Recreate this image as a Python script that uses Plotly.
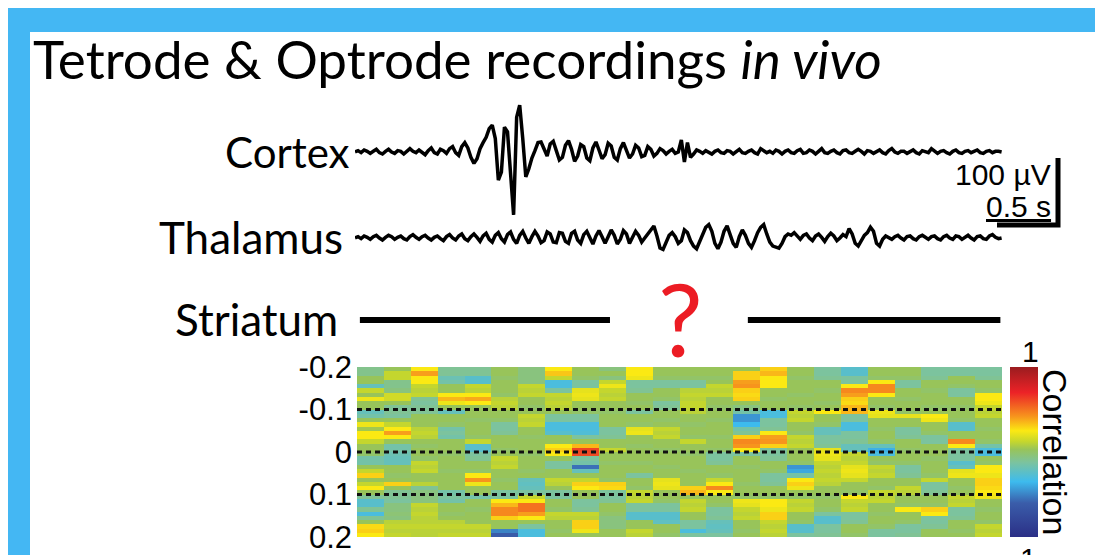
import plotly.graph_objects as go

W, H = 1103, 555

# ---------------- data ----------------
SAMPLE_DT = 0.025  # s
CORTEX_UV = [
    0, 2, -1, 3, 1, -2, 1, 4, -1, -3,
    1, 4, 0, -2, 2, 1, -3, 1, 5, 1,
    -1, 3, -1, -4, 2, 6, -1, -3, 4, 2,
    -2, 5, 8, -1, -5, 8, 14, 6, -8, -17,
    -10, 5, 14, 22, 35, 40, 20, -42, -30, 37,
    30, -40, -94, 52, 70, 20, -37, -25, -9, 2,
    14, 15, 4, -6, 12, 16, 2, -12, -8, 10,
    17, 4, -14, -6, 11, 8, -9, -13, 6, 15,
    3, -10, -4, 13, 9, -8, -12, 5, 14, 2,
    -9, -3, 10, 6, -7, -5, 8, 4, -6, -2,
    5, 2, -3, 1, 4, -2, 0, 18, -15, 14,
    -8, -3, 3, 1, -2, 2, 0, -3, 1, 3,
    -1, -2, 2, 1, -3, 1, 4, -1, -2, 1,
    3, -1, -3, 5, 2, -1, 1, -2, 3, 1,
    -3, 1, 3, -1, -2, 2, 4, -2, -1, 3,
    1, -3, 1, 5, -1, -2, 1, 3, -1, -3,
    2, 3, -1, -2, 1, 4, 1, -3, 2, 1,
    -2, 1, 3, -1, -3, 2, 5, 0, -2, 1,
    1, -2, 1, 3, -1, -3, 2, 1, -1, 5,
    1, -2, 1, 2, -1, -3, 1, 3, -1, -2,
    1, 2, -1, 1, 3, -1, -2, 1, 2, -1,
    1, 1, 0,
]
THALAMUS_UV = [
    0, 2, -1, 3, 1, -2, 2, 4, 0, -3,
    1, 4, 2, -2, 1, 3, -1, -3, 2, 5,
    1, -2, 2, 4, 0, -3, 1, 3, -1, -4,
    2, 5, 0, -3, 3, 6, -1, -4, 2, 6,
    1, -5, 3, 7, -2, -6, 4, 8, -1, -6,
    5, 9, -2, -8, 4, 10, 0, -8, 2, 10,
    3, -7, -4, 9, 6, -6, -7, 8, 7, -5,
    -8, 7, 10, -3, -8, 5, 10, 0, -9, 3,
    11, 2, -8, 2, 12, 4, -9, -2, 11, 6,
    -8, 1, 10, 4, -6, 0, 6, 14, 18, 3,
    -15, -17, -6, 4, 8, 2, -8, -4, 12, 8,
    -4, -12, -16, -6, 6, 16, 20, 10, -8, -16,
    -6, 10, 18, 6, -8, -14, 2, 12, 4, -8,
    -14, -4, 8, 16, 20, 6, -6, -12, -14, -15,
    -8, 2, 6, 4, 8, 2, -2, 4, 6, 0,
    -4, 3, 6, 1, -5, 2, 7, 3, -4, 0,
    5, 2, 14, 6, -8, -12, -4, 4, 8, 16,
    10, -8, -12, -2, 3, 1, -2, 2, 4, 0,
    -3, 2, 3, -1, -3, 2, 4, 1, -2, 2,
    3, -1, -3, 2, 4, 0, -2, 3, 2, -2,
    1, 4, 0, -3, 2, 3, -1, -2, 3, 5,
    1, -1, 0,
]
STRIATUM_SEGMENTS_S = [(0.04, 2.09), (3.22, 5.29)]  # recorded stretches, s
SCALE_UV = 100
SCALE_S = 0.5

LAG_TICKS = [-0.2, -0.1, 0, 0.1, 0.2]
LAG_TICK_TEXT = ["-0.2", "-0.1", "0", "0.1", "0.2"]
DOTTED_LAGS = [-0.1, 0, 0.1]
ROW_LAG_START = -0.195
ROW_LAG_STEP = 0.01

HEATMAP_COLUMNS = [
    [-0.08, -0.08, 0.03, 0.03, -0.2, 0.12, 0.03, 0.22, 0.03, 0.03,
     -0.2, -0.15, 0.03, 0.22, 0.05, 0.25, 0.25, 0.12, 0.03, 0.03,
     0.0, -0.15, -0.15, 0.03, 0.12, 0.3, 0.03, 0.12, 0.25, 0.03,
     -0.1, -0.25, -0.25, -0.1, -0.3, -0.1, 0.03, 0.28, 0.3, 0.25],
    [0.03, 0.12, 0.12, -0.08, -0.08, -0.05, 0.15, 0.15, 0.03, -0.1,
     -0.1, -0.12, 0.03, 0.12, 0.25, 0.4, 0.25, 0.03, -0.15, -0.15,
     -0.18, -0.2, -0.2, 0.03, 0.03, 0.0, 0.03, 0.3, 0.03, -0.1,
     -0.1, -0.12, -0.05, -0.05, -0.03, -0.05, 0.1, 0.12, 0.1, 0.12],
    [0.25, 0.4, 0.25, 0.25, 0.12, 0.1, 0.12, -0.1, -0.12, -0.1,
     -0.1, 0.03, 0.03, 0.03, 0.1, 0.12, 0.1, 0.03, 0.0, 0.03,
     0.03, 0.0, 0.12, 0.1, 0.12, 0.03, 0.03, 0.1, -0.1, -0.05,
     -0.05, -0.05, 0.12, 0.1, 0.12, 0.1, 0.1, 0.12, 0.1, 0.1],
    [-0.1, -0.1, -0.18, -0.15, 0.03, 0.03, 0.25, 0.35, 0.22, 0.03,
     -0.2, 0.03, 0.03, 0.0, -0.15, -0.12, -0.15, 0.03, 0.03, 0.03,
     0.0, 0.03, 0.03, 0.03, 0.0, 0.03, 0.03, 0.03, 0.03, -0.15,
     -0.12, -0.15, 0.03, 0.03, 0.0, 0.03, 0.1, 0.12, 0.1, 0.12],
    [-0.1, -0.1, -0.25, -0.25, 0.12, 0.1, 0.25, 0.38, 0.25, 0.03,
     0.03, 0.03, 0.0, 0.03, 0.03, 0.03, 0.0, 0.12, -0.25, -0.25,
     -0.12, -0.1, 0.03, 0.03, 0.0, 0.25, 0.42, 0.22, 0.03, 0.03,
     -0.15, 0.03, 0.03, 0.0, 0.03, 0.03, 0.03, 0.12, 0.1, 0.12],
    [0.03, 0.03, 0.0, 0.03, 0.03, 0.03, 0.0, 0.1, 0.12, 0.1,
     0.03, 0.03, 0.0, -0.12, -0.12, -0.1, 0.03, 0.03, 0.03, 0.0,
     0.03, 0.12, 0.1, 0.12, 0.03, 0.03, 0.0, 0.03, 0.03, -0.12,
     -0.12, 0.25, 0.35, 0.45, 0.45, 0.3, 0.03, 0.03, -0.5, -0.62],
    [-0.05, -0.05, -0.05, -0.05, 0.12, 0.1, 0.12, 0.03, 0.03, 0.0,
     0.03, 0.12, 0.1, 0.12, 0.03, 0.03, 0.0, 0.03, 0.03, 0.03,
     0.0, 0.03, 0.03, 0.03, 0.0, 0.03, -0.2, -0.22, -0.2, -0.12,
     0.12, 0.25, 0.5, 0.5, 0.4, 0.25, 0.03, -0.12, -0.3, -0.3],
    [0.25, 0.32, 0.12, -0.3, -0.3, -0.12, 0.12, 0.1, 0.12, 0.1,
     0.03, -0.12, -0.12, -0.3, -0.3, -0.25, 0.03, 0.03, 0.25, 0.3,
     0.25, 0.03, -0.12, -0.12, 0.03, 0.03, 0.12, 0.1, 0.03, -0.12,
     -0.12, 0.03, 0.03, 0.0, 0.12, 0.1, 0.03, 0.03, 0.0, 0.03],
    [0.03, 0.03, 0.0, -0.12, -0.12, 0.2, 0.22, 0.2, 0.03, 0.03,
     0.0, -0.12, -0.12, -0.3, -0.3, -0.28, -0.12, 0.03, 0.35, 0.62,
     0.6, -0.12, -0.15, -0.55, -0.2, 0.03, 0.12, 0.3, 0.25, 0.03,
     0.03, -0.12, -0.12, -0.1, 0.12, 0.1, 0.3, 0.3, 0.22, 0.03],
    [-0.05, 0.03, -0.05, 0.12, 0.22, 0.12, 0.1, 0.12, 0.03, 0.03,
     0.0, 0.03, 0.03, 0.03, -0.12, -0.12, -0.1, 0.03, 0.03, 0.12,
     0.03, 0.03, 0.0, 0.03, 0.03, 0.03, 0.0, 0.3, 0.28, -0.12,
     -0.12, -0.1, 0.03, 0.03, 0.0, -0.05, -0.05, -0.05, 0.03, 0.03],
    [0.25, 0.25, 0.22, -0.12, -0.12, -0.1, 0.03, 0.03, 0.0, 0.03,
     -0.12, 0.03, 0.03, 0.0, 0.2, 0.22, 0.03, 0.03, 0.0, 0.03,
     0.03, 0.03, 0.0, 0.03, 0.03, -0.12, 0.03, 0.03, 0.0, 0.12,
     0.1, 0.12, -0.12, -0.12, -0.25, -0.25, 0.03, 0.03, 0.12, 0.1],
    [0.03, 0.03, 0.0, -0.12, -0.12, 0.03, 0.03, 0.0, -0.12, -0.1,
     0.03, 0.03, 0.0, 0.03, 0.12, 0.1, 0.12, 0.03, 0.03, 0.0,
     0.03, 0.03, 0.03, 0.0, 0.03, 0.03, 0.2, 0.22, 0.2, 0.03,
     0.03, 0.0, -0.12, -0.12, -0.25, -0.25, -0.22, 0.03, 0.03, 0.0],
    [0.03, 0.03, 0.0, -0.12, -0.12, 0.1, 0.12, 0.1, 0.12, 0.12,
     0.1, 0.03, 0.03, 0.0, 0.03, 0.03, 0.0, 0.12, 0.03, 0.03,
     0.0, 0.03, 0.03, 0.03, 0.0, 0.03, 0.03, 0.03, 0.3, 0.35,
     0.03, 0.12, 0.1, 0.12, 0.03, 0.03, -0.12, -0.12, -0.3, -0.12],
    [0.03, 0.03, 0.0, 0.03, 0.12, 0.1, 0.12, 0.03, 0.03, 0.0,
     0.03, 0.03, 0.0, 0.03, 0.03, 0.03, 0.0, 0.03, 0.03, 0.0,
     -0.12, -0.12, -0.1, 0.03, 0.03, 0.0, 0.12, 0.25, 0.45, 0.25,
     0.03, 0.03, 0.0, -0.12, -0.12, -0.1, -0.2, -0.22, -0.2, -0.12],
    [0.03, 0.3, 0.3, 0.4, 0.42, 0.3, 0.28, 0.3, 0.03, -0.05,
     -0.15, -0.45, -0.45, -0.35, -0.15, -0.1, 0.3, 0.45, 0.42, 0.25,
     -0.12, 0.03, 0.03, 0.0, 0.03, 0.03, 0.03, 0.0, 0.03, 0.03,
     0.0, 0.22, 0.2, 0.12, 0.1, 0.12, 0.03, 0.03, 0.0, 0.03],
    [0.3, 0.35, 0.25, 0.25, 0.25, 0.03, 0.03, 0.0, 0.03, 0.03,
     -0.3, -0.3, -0.12, -0.12, -0.1, 0.25, 0.4, 0.42, 0.3, -0.12,
     -0.12, -0.1, 0.03, 0.03, 0.0, -0.12, -0.12, -0.1, 0.03, 0.03,
     0.0, 0.25, 0.25, 0.22, 0.3, 0.3, 0.12, 0.1, 0.12, 0.1],
    [0.03, 0.03, 0.0, 0.03, 0.03, 0.03, 0.0, 0.03, 0.03, 0.0,
     0.12, 0.1, 0.12, 0.03, 0.03, 0.0, 0.12, 0.1, 0.12, 0.03,
     0.03, 0.03, 0.0, -0.45, -0.4, -0.15, 0.25, 0.3, 0.22, 0.03,
     0.0, 0.12, 0.1, 0.12, 0.03, 0.03, 0.0, -0.25, -0.25, -0.12],
    [-0.12, -0.12, -0.1, 0.03, 0.03, 0.0, 0.03, 0.03, 0.0, 0.03,
     0.25, 0.03, 0.03, 0.0, -0.2, -0.2, -0.12, -0.12, -0.1, 0.2,
     0.22, 0.2, 0.12, 0.1, 0.12, 0.1, 0.12, 0.1, 0.03, 0.03,
     0.0, 0.03, 0.03, 0.0, -0.12, -0.25, -0.25, -0.12, -0.12, -0.1],
    [-0.25, -0.25, -0.12, -0.12, 0.25, 0.45, 0.4, 0.3, 0.28, 0.35,
     0.35, -0.12, -0.12, -0.3, -0.3, -0.12, -0.12, -0.1, -0.2, -0.2,
     0.12, 0.1, 0.12, 0.2, 0.22, 0.2, 0.12, 0.03, 0.03, 0.0,
     0.25, 0.12, 0.1, 0.12, -0.12, -0.12, -0.1, 0.03, 0.03, 0.0],
    [0.03, 0.03, 0.0, 0.25, 0.45, 0.45, 0.25, 0.03, 0.03, 0.0,
     0.22, 0.2, 0.03, 0.03, 0.0, 0.03, 0.03, 0.0, -0.2, -0.38,
     -0.3, 0.03, 0.0, 0.12, 0.1, 0.12, 0.03, 0.03, 0.0, 0.12,
     0.1, 0.12, 0.03, 0.03, 0.0, 0.03, 0.03, 0.0, -0.12, -0.12],
    [0.03, 0.03, 0.0, -0.12, -0.12, 0.03, 0.03, 0.0, 0.03, 0.03,
     0.0, 0.2, 0.03, 0.03, -0.12, -0.12, -0.1, 0.03, 0.03, 0.0,
     0.03, 0.03, 0.0, -0.12, -0.12, -0.1, 0.03, 0.03, 0.12, 0.1,
     0.03, 0.03, 0.0, 0.25, 0.03, 0.03, 0.0, -0.12, -0.12, -0.1],
    [-0.12, -0.12, -0.1, 0.03, 0.03, 0.0, 0.03, 0.03, 0.03, 0.0,
     0.03, 0.25, 0.22, 0.03, 0.03, 0.0, -0.12, -0.12, 0.03, 0.03,
     0.03, 0.0, 0.03, 0.03, 0.03, 0.0, 0.12, -0.12, -0.12, -0.1,
     0.03, 0.03, 0.0, 0.3, 0.25, -0.12, -0.12, -0.1, 0.03, 0.03],
    [-0.12, -0.12, 0.03, 0.03, 0.0, -0.12, -0.12, 0.03, 0.03, 0.0,
     0.03, 0.03, 0.0, -0.25, -0.25, 0.03, 0.03, 0.45, 0.25, -0.12,
     -0.12, -0.12, -0.25, -0.2, 0.2, 0.22, 0.03, 0.03, 0.0, 0.03,
     0.12, 0.1, 0.12, -0.12, -0.12, -0.1, 0.03, 0.03, 0.0, 0.03],
    [-0.12, -0.12, -0.1, 0.03, 0.03, 0.0, 0.25, 0.25, 0.22, 0.12,
     0.1, 0.12, 0.03, 0.03, 0.0, 0.03, 0.03, 0.0, -0.15, -0.3,
     -0.3, 0.03, 0.0, 0.25, 0.25, 0.22, 0.3, 0.3, 0.28, 0.25,
     0.22, 0.03, 0.03, 0.0, 0.03, 0.03, 0.0, 0.12, 0.1, 0.12],
]

for col in HEATMAP_COLUMNS:
    assert len(col) == 40, len(col)
assert len(CORTEX_UV) == len(THALAMUS_UV)

# ---------------- helpers (page pixels -> paper fractions) ----------------
PAGE_OFFSET = 8  # the page places the figure 8 px right/down


def fx(px):
    return (px - PAGE_OFFSET) / W


def fy(py):
    return 1 - (py - PAGE_OFFSET) / H


PX_PER_S = 122.0
PX_PER_UV = 0.67
TRACE_X0 = 355

t = [i * SAMPLE_DT for i in range(len(CORTEX_UV))]
z = [list(row) for row in zip(*HEATMAP_COLUMNS)]
n_cols = len(HEATMAP_COLUMNS)

colorscale = [
    [0.0, "#2b2f86"],
    [0.2, "#3a5daa"],
    [0.325, "#3dbbee"],
    [0.44, "#7cc39e"],
    [0.515, "#98c45a"],
    [0.56, "#c4d62e"],
    [0.625, "#fbe913"],
    [0.71, "#f7941d"],
    [0.85, "#ec2227"],
    [1.0, "#9a1c1f"],
]

fig = go.Figure()

fig.add_trace(go.Scatter(x=t, y=CORTEX_UV, xaxis="x", yaxis="y", mode="lines",
                         line=dict(color="black", width=3.5), hoverinfo="skip"))
fig.add_trace(go.Scatter(x=t, y=THALAMUS_UV, xaxis="x", yaxis="y2", mode="lines",
                         line=dict(color="black", width=3.5), hoverinfo="skip"))
sx, sy = [], []
for a, b in STRIATUM_SEGMENTS_S:
    sx += [a, b, None]
    sy += [0, 0, None]
fig.add_trace(go.Scatter(x=sx, y=sy, xaxis="x", yaxis="y3", mode="lines",
                         line=dict(color="black", width=6), hoverinfo="skip"))

fig.add_trace(go.Heatmap(
    z=z, x=list(range(n_cols)), y0=ROW_LAG_START, dy=ROW_LAG_STEP,
    xaxis="x2", yaxis="y4", colorscale=colorscale, zmin=-1, zmax=1,
    colorbar=dict(x=fx(1010), xanchor="left", y=fy(452), yanchor="middle",
                  len=170, lenmode="pixels", thickness=28, thicknessmode="pixels",
                  outlinewidth=0, showticklabels=False, ticks="", xpad=0, ypad=0),
    hoverinfo="skip"))

for lag in DOTTED_LAGS:
    fig.add_trace(go.Scatter(x=[-0.5, n_cols - 0.5], y=[lag, lag], xaxis="x2", yaxis="y4",
                             mode="lines", line=dict(color="#111111", width=3, dash="5px,4px"),
                             hoverinfo="skip"))

# scale bar (in cortex units)
sb_t = (1058 - TRACE_X0) / PX_PER_S
sb_y0 = (152 - 225) / PX_PER_UV
fig.add_shape(type="path", xref="x", yref="y",
              path=f"M {sb_t - SCALE_S},{sb_y0} L {sb_t},{sb_y0} L {sb_t},{sb_y0 + SCALE_UV}",
              line=dict(color="black", width=5))

# white slide panel
fig.add_shape(type="rect", xref="paper", yref="paper", x0=fx(30), x1=1, y0=0, y1=fy(32),
              fillcolor="white", line=dict(width=0), layer="below")

LABEL_FONT = "Lato, Calibri, sans-serif"
ARIAL = "Liberation Sans, Arial, sans-serif"
ann = []
ann.append(dict(text="Tetrode & Optrode recordings <i>in vivo</i>", x=fx(31), y=fy(59),
                xanchor="left", yanchor="middle", font=dict(family=LABEL_FONT, size=53, color="black")))
for txt, xr, yc, size in [("Cortex", 352, 152, 42), ("Thalamus", 345, 237, 44), ("Striatum", 340, 319, 44)]:
    ann.append(dict(text=txt, x=fx(xr), y=fy(yc), xanchor="right", yanchor="middle",
                    font=dict(family=LABEL_FONT, size=size, color="black")))
ann.append(dict(text="?", x=fx(680), y=fy(318), xanchor="center", yanchor="middle",
                font=dict(family=LABEL_FONT, size=100, color="#ec1c24")))
ann.append(dict(text=f"{SCALE_UV} µV", x=fx(1053), y=fy(174), xanchor="right", yanchor="middle",
                font=dict(family=ARIAL, size=30, color="black")))
ann.append(dict(text=f"<u>{SCALE_S} s</u>", x=fx(1053), y=fy(206), xanchor="right", yanchor="middle",
                font=dict(family=ARIAL, size=30, color="black")))
ann.append(dict(text="1", x=fx(1031), y=fy(351), xanchor="center", yanchor="middle",
                font=dict(family=ARIAL, size=30, color="black")))
# bottom colorbar label: only its top shows at the slide's lower edge
ann.append(dict(text="-1", x=fx(1038), y=fy(541), xanchor="right", yanchor="top",
                height=H - (541 - PAGE_OFFSET), valign="top", borderpad=0,
                font=dict(family=ARIAL, size=30, color="black")))
ann.append(dict(text="Correlation", x=fx(1055), y=fy(452), xanchor="center", yanchor="middle",
                textangle=90, font=dict(family=ARIAL, size=34, color="black")))
for a in ann:
    a.update(xref="paper", yref="paper", showarrow=False)

fig.update_layout(
    width=W, height=H, margin=dict(l=0, r=0, t=0, b=0, pad=0, autoexpand=False),
    paper_bgcolor="#44b7f3", plot_bgcolor="rgba(0,0,0,0)",
    showlegend=False, annotations=ann,
    xaxis=dict(domain=[fx(TRACE_X0), fx(1062)], range=[0, (1062 - TRACE_X0) / PX_PER_S],
               visible=False, anchor="y"),
    yaxis=dict(domain=[fy(240), fy(95)], range=[-(240 - 152) / PX_PER_UV, (152 - 95) / PX_PER_UV],
               visible=False, anchor="x"),
    yaxis2=dict(domain=[fy(268), fy(208)], range=[-30 / PX_PER_UV, 30 / PX_PER_UV],
                visible=False, anchor="x"),
    yaxis3=dict(domain=[fy(340), fy(300)], range=[-1, 1], visible=False, anchor="x"),
    xaxis2=dict(domain=[fx(357), fx(1002)], range=[-0.5, n_cols - 0.5], visible=False, anchor="y4"),
    yaxis4=dict(domain=[fy(537), fy(367)], range=[0.2, -0.2], anchor="x2",
                tickvals=LAG_TICKS, ticktext=LAG_TICK_TEXT, ticks="", showgrid=False,
                zeroline=False, showline=False, ticklabelstandoff=4, automargin=False,
                tickfont=dict(family=ARIAL, size=31, color="black")),
)

fig.write_html("out.html")
